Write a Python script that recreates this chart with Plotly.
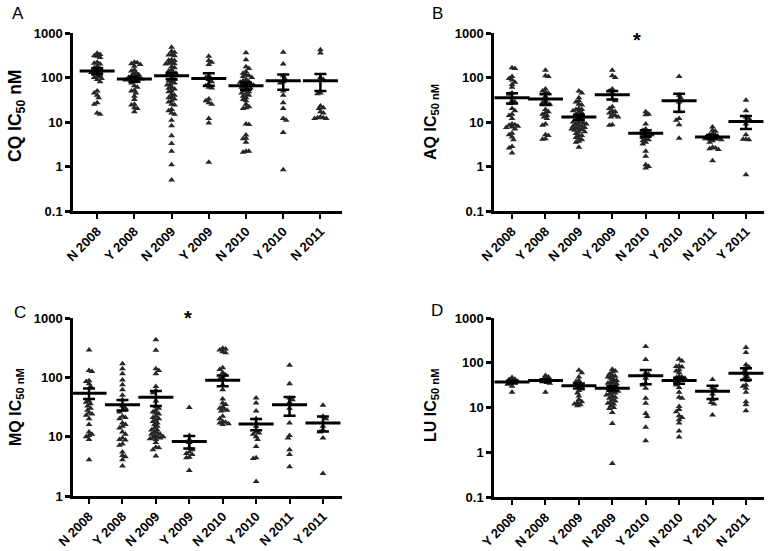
import numpy as np
import plotly.graph_objects as go

W, H = 768, 551

# ---------------- data ----------------
cats_A = ["N 2008", "Y 2008", "N 2009", "Y 2009", "N 2010", "Y 2010", "N 2011"]
cats_B = ["N 2008", "Y 2008", "N 2009", "Y 2009", "N 2010", "Y 2010", "N 2011", "Y 2011"]
cats_C = ["N 2008", "Y 2008", "N 2009", "Y 2009", "N 2010", "Y 2010", "N 2011", "Y 2011"]
cats_D = ["Y 2008", "N 2008", "Y 2009", "N 2009", "Y 2010", "N 2010", "Y 2011", "N 2011"]

# A: CQ
cq_n2008 = [350, 330, 310, 300, 280, 220, 210, 200, 180, 165, 160, 150, 140, 135, 130, 125, 120, 110, 105, 100, 95, 90, 80, 50, 45, 40, 35, 27, 25, 16, 15]
cq_y2008 = [220, 215, 205, 195, 180, 150, 140, 130, 120, 115, 110, 105, 100, 98, 95, 92, 90, 88, 85, 80, 75, 65, 60, 52, 50, 45, 38, 32, 25, 24, 21, 20, 17]
cq_n2009 = [480, 390, 370, 330, 320, 310, 250, 245, 240, 215, 210, 205, 200, 175, 165, 150, 140, 130, 125, 120, 115, 95, 90, 85, 80, 75, 70, 68, 60, 57, 55, 50, 48, 42, 40, 36, 35, 33, 30, 28, 25, 24, 19, 18, 16, 15, 11, 8.2, 4.9, 3.3, 2.2, 1.1, 0.5]
cq_y2009 = [300, 240, 220, 195, 110, 100, 90, 80, 70, 65, 60, 58, 33, 30, 27, 25, 12, 9.5, 1.25]
cq_n2010 = [360, 250, 175, 160, 135, 125, 115, 110, 105, 100, 90, 85, 80, 78, 75, 72, 70, 68, 65, 62, 60, 58, 55, 50, 48, 45, 42, 40, 38, 35, 32, 30, 25, 22, 21, 20, 9, 8.8, 5.1, 4.3, 4.2, 3.5, 2.2, 2.2, 2.1]
cq_y2010 = [370, 200, 110, 95, 80, 75, 50, 40, 27, 20, 12, 11, 5.8, 0.84]
cq_n2011 = [420, 355, 100, 90, 45, 43, 23, 21, 20, 17, 16, 13, 12.5, 12.5, 12, 12]
cq_mean = [140, 92, 110, 95, 65, 85, 85]
cq_sem = [22, 12, 17, 30, 12, 32, 35]

# B: AQ
aq_n2008 = [165, 160, 105, 95, 88, 78, 70, 60, 45, 42, 35, 30, 28, 26, 20, 18, 15, 14, 12, 9, 8.7, 8.5, 8, 7.7, 7.5, 7, 5.6, 5.2, 4.6, 4, 2.8, 2.6, 2]
aq_y2008 = [145, 110, 105, 55, 50, 46, 44, 38, 30, 27, 26, 25, 19, 17, 16, 15, 14, 13, 12, 9, 8.5, 5.2, 5, 4.2, 4.1]
aq_n2009 = [50, 45, 35, 30, 28, 25, 24, 20, 19, 19, 18, 17, 16, 15, 14, 13, 12, 11, 11, 10, 10, 9.5, 9, 9, 8.5, 8, 8, 7.5, 7.5, 7, 7, 6.8, 6.5, 6, 6, 5.5, 5, 5, 4.5, 4.3, 4, 3.7, 3.5, 2.7]
aq_y2009 = [145, 110, 100, 55, 50, 45, 33, 30, 22, 20, 18, 17, 16, 15, 14, 13, 13, 8.7, 8.5]
aq_n2010 = [17, 15, 14.5, 9, 7, 6.5, 6, 5.8, 5.5, 5.2, 5, 4.8, 4.5, 4.2, 4, 3.8, 3.5, 3.2, 2.2, 1.7, 1.1, 1.0, 0.92]
aq_y2010 = [105, 40, 35, 28, 17, 12, 11, 8.7, 4.3]
aq_n2011 = [7.7, 6.5, 6.2, 5.5, 5.2, 5, 4.8, 4.6, 4.5, 4.4, 4.3, 4.2, 4, 3.8, 3.5, 2.7, 2.6, 2.5, 2.4, 1.35]
aq_y2011 = [31, 18, 13, 12, 9, 5.2, 4.1, 4.1, 4.0, 0.65]
aq_mean = [35, 33, 12.9, 41, 5.6, 30, 4.6, 10.3]
aq_sem = [9, 9, 1.7, 9, 0.9, 13, 0.5, 3.3]

# C: MQ
mq_n2008 = [290, 130, 125, 88, 85, 78, 70, 40, 38, 36, 33, 30, 28, 25, 24, 23, 20, 16, 12, 11, 10.5, 10, 9, 4.1]
mq_y2008 = [170, 140, 115, 90, 75, 62, 50, 42, 33, 30, 28, 26, 22, 21, 20, 17, 16, 15, 14, 12, 11, 9.5, 9, 8.8, 7.5, 7.2, 5.5, 4.8, 4.6, 4.1, 3.2]
mq_n2009 = [430, 285, 140, 130, 115, 70, 60, 55, 40, 32, 30, 28, 26, 25, 24, 22, 21, 20, 19, 18, 17, 16, 15, 14, 13, 13, 12, 11.5, 11, 11, 10.5, 10, 10, 9.5, 9.5, 9.2, 9, 8, 6.6, 6.5, 6, 4.7]
mq_y2009 = [31, 10.5, 9, 8, 6.5, 6, 5.5, 5.2, 5, 4.5, 4.4, 2.7]
mq_n2010 = [310, 300, 290, 270, 260, 145, 135, 120, 110, 100, 95, 75, 62, 43, 37, 35, 32, 30, 29, 28, 27, 22, 20, 18, 17.5, 17, 16.5, 16]
mq_y2010 = [45, 37, 27, 20, 17, 15, 12, 11.5, 11, 10, 9, 6.8, 4.4, 4.3, 1.75]
mq_n2011 = [160, 78, 45, 42, 38, 30, 17, 10.5, 9.5, 6, 5, 3.1]
mq_y2011 = [34, 22, 20, 15, 13, 12, 9.5, 2.4]
mq_mean = [54, 34.5, 46, 8.3, 89, 16.3, 34.5, 17]
mq_sem = [11, 7, 13, 2, 18, 3.5, 12, 4.8]

# D: LU
lu_y2008 = [47, 43, 42, 40, 38, 37, 35, 33, 30, 22]
lu_n2008 = [52, 48, 45, 42, 40, 38, 36, 35, 22]
lu_y2009 = [68, 60, 48, 40, 38, 35, 32, 28, 26, 24, 21, 18, 15, 13.5, 13, 12, 11.5, 11]
lu_n2009 = [72, 65, 62, 55, 52, 50, 48, 45, 42, 40, 38, 36, 35, 34, 32, 30, 28, 26, 25, 24, 23, 22, 21, 20, 19, 18, 17, 16, 15, 14, 13, 12.5, 12, 11, 10, 9.5, 7.7, 4.4, 0.56]
lu_y2010 = [230, 118, 60, 55, 45, 35, 32, 27, 16, 12.5, 7.3, 6.3, 3.6, 1.8]
lu_n2010 = [120, 110, 85, 82, 80, 70, 65, 60, 50, 48, 46, 45, 42, 40, 38, 35, 32, 28, 22, 17, 16, 10.5, 9, 8, 6.5, 6, 5.3, 4.5, 3, 2.2]
lu_y2011 = [42, 28, 25, 20, 15, 13, 12, 6.8]
lu_n2011 = [220, 170, 90, 80, 75, 65, 55, 48, 45, 40, 32, 30, 27, 22, 13.5, 11.5, 8.5]
lu_mean = [37, 40, 30.5, 27, 51, 40, 23, 58]
lu_sem = [2.5, 3, 4, 3, 18, 6, 7.5, 17]

y_tickvals = [0.1, 1, 10, 100, 1000]
y_ticktext = ["0.1", "1", "10", "100", "1000"]

# ---------------- layout helpers ----------------
FONT = "Liberation Sans, Arial, sans-serif"


def fx(px):
    return px / W


def fy(py):
    return 1 - py / H


panels = [
    dict(name="A", cats=cats_A,
         groups=[cq_n2008, cq_y2008, cq_n2009, cq_y2009, cq_n2010, cq_y2010, cq_n2011],
         mean=cq_mean, sem=cq_sem, px=(73, 342), py=(33, 211), xr=(-0.65, 6.58), yr=(-1, 3),
         title="CQ IC<sub>50</sub> nM", tsize=17.5, title_px=(16, 116), letter_px=(18, 13)),
    dict(name="B", cats=cats_B,
         groups=[aq_n2008, aq_y2008, aq_n2009, aq_y2009, aq_n2010, aq_y2010, aq_n2011, aq_y2011],
         mean=aq_mean, sem=aq_sem, px=(494, 764), py=(33, 211), xr=(-0.54, 7.54), yr=(-1, 3),
         title="AQ IC<sub>50 nM</sub>", tsize=16, title_px=(431, 122), letter_px=(437, 13)),
    dict(name="C", cats=cats_C,
         groups=[mq_n2008, mq_y2008, mq_n2009, mq_y2009, mq_n2010, mq_y2010, mq_n2011, mq_y2011],
         mean=mq_mean, sem=mq_sem, px=(73, 342), py=(318, 496), xr=(-0.48, 7.57), yr=(0, 3),
         title="MQ IC<sub>50 nM</sub>", tsize=16, title_px=(16, 407), letter_px=(20, 312)),
    dict(name="D", cats=cats_D,
         groups=[lu_y2008, lu_n2008, lu_y2009, lu_n2009, lu_y2010, lu_n2010, lu_y2011, lu_n2011],
         mean=lu_mean, sem=lu_sem, px=(494, 764), py=(318, 497), xr=(-0.54, 7.54), yr=(-1, 3),
         title="LU IC<sub>50 nM</sub>", tsize=16, title_px=(431, 405), letter_px=(437, 311)),
]


def swarm_offsets(vals, ppu, ppd, d=2.9):
    ys = np.log10(np.asarray(vals, dtype=float)) * ppd
    order = np.argsort(-ys, kind="stable")
    placed = []
    offs = np.zeros(len(vals))
    flip = 1
    for i in order:
        y = ys[i]
        best = None
        for k in range(0, 80):
            cands = [0.0] if k == 0 else [flip * k * d / 2, -flip * k * d / 2]
            for x in cands:
                if all((x - a) ** 2 + (y - b) ** 2 >= d * d for a, b in placed):
                    best = x
                    break
            if best is not None:
                break
        if best != 0:
            flip = -flip
        placed.append((best, y))
        offs[i] = best / ppu
    return offs


fig = go.Figure()
layout = dict(width=W, height=H, margin=dict(l=0, r=0, t=0, b=0, pad=0, autoexpand=False),
              template="none",
              paper_bgcolor="white", plot_bgcolor="white", showlegend=False,
              font=dict(family=FONT, color="black"))
annotations = []

for idx, p in enumerate(panels):
    n = idx + 1
    xa = "x" if n == 1 else f"x{n}"
    ya = "y" if n == 1 else f"y{n}"
    xkey = "xaxis" if n == 1 else f"xaxis{n}"
    ykey = "yaxis" if n == 1 else f"yaxis{n}"
    x0, x1 = p["px"]
    yt, yb = p["py"]
    ppu = (x1 - x0) / (p["xr"][1] - p["xr"][0])
    ppd = (yb - yt) / (p["yr"][1] - p["yr"][0])

    xs_all, ys_all = [], []
    for gi, vals in enumerate(p["groups"]):
        offs = swarm_offsets(vals, ppu, ppd)
        xs_all.extend(list(gi + offs))
        ys_all.extend(vals)
    fig.add_trace(go.Scatter(x=xs_all, y=ys_all, mode="markers", xaxis=xa, yaxis=ya,
                             marker=dict(symbol="triangle-up", size=6, color="#262626",
                                         line=dict(width=0)),
                             hoverinfo="y"))
    fig.add_trace(go.Scatter(x=list(range(len(p["cats"]))), y=p["mean"], mode="markers",
                             xaxis=xa, yaxis=ya,
                             marker=dict(symbol="line-ew", size=25, color="black",
                                         line=dict(width=3, color="black")),
                             error_y=dict(type="data", array=p["sem"], visible=True,
                                          color="black", thickness=2.5, width=6)))

    layout[xkey] = dict(domain=[fx(x0), fx(x1)], range=list(p["xr"]), anchor=ya,
                        automargin=False, fixedrange=True,
                        tickmode="array", tickvals=list(range(len(p["cats"]))),
                        ticktext=p["cats"], tickangle=-45, ticks="outside", ticklen=5,
                        tickwidth=2, tickcolor="black", showline=True, linewidth=2.5,
                        linecolor="black", showgrid=False, zeroline=False,
                        tickfont=dict(family=FONT, size=13, color="black", weight="bold"))
    layout[ykey] = dict(domain=[fy(yb), fy(yt)], type="log", range=list(p["yr"]),
                        anchor=xa, automargin=False, fixedrange=True,
                        tickmode="array", tickvals=y_tickvals, ticktext=y_ticktext,
                        ticks="outside", ticklen=5, tickwidth=2.5, tickcolor="black",
                        showline=True, linewidth=2.5, linecolor="black", showgrid=False,
                        zeroline=False,
                        tickfont=dict(family=FONT, size=13, color="black", weight="bold"))

    annotations.append(dict(x=fx(p["title_px"][0]), y=fy(p["title_px"][1]),
                            xref="paper", yref="paper", text=p["title"], showarrow=False,
                            textangle=-90, xanchor="center", yanchor="middle",
                            font=dict(family=FONT, size=p["tsize"], color="black", weight="bold")))
    annotations.append(dict(x=fx(p["letter_px"][0]), y=fy(p["letter_px"][1]),
                            xref="paper", yref="paper", text=p["name"], showarrow=False,
                            xanchor="center", yanchor="middle",
                            font=dict(family=FONT, size=17, color="black")))

# significance asterisks
annotations.append(dict(x=fx(637), y=fy(40), xref="paper", yref="paper", text="*",
                        showarrow=False, xanchor="center", yanchor="middle",
                        font=dict(family=FONT, size=20, color="black", weight="bold")))
annotations.append(dict(x=fx(188), y=fy(318), xref="paper", yref="paper", text="*",
                        showarrow=False, xanchor="center", yanchor="middle",
                        font=dict(family=FONT, size=20, color="black", weight="bold")))

layout["annotations"] = annotations
fig.update_layout(**layout)
# remove the default page margin so the 768x551 figure fills the window exactly
fig.write_html("out.html", config={"displayModeBar": False},
               post_script="document.body.style.margin='0';document.body.style.overflow='hidden';")
